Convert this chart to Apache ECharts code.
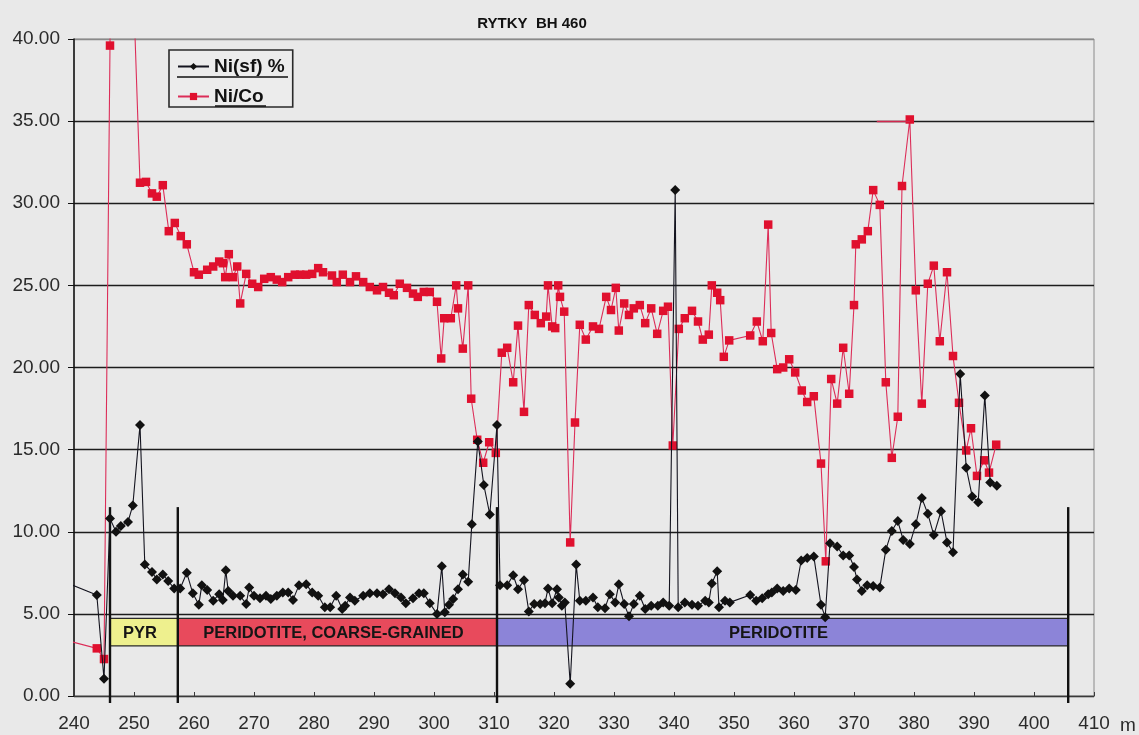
<!DOCTYPE html>
<html>
<head>
<meta charset="utf-8">
<script src="https://cdn.jsdelivr.net/npm/echarts@6/dist/echarts.min.js"></script>
<style>
  html, body { margin: 0; padding: 0; background: #e9e9e9; }
  #chart { width: 1139px; height: 735px; }
</style>
</head>
<body>
<div id="chart"></div>
<script>
// Borehole RYTKY BH 460: Ni(sf) % and Ni/Co ratio against depth (m)

// Ni(sf) % samples
const niDepth = [
  238.0, 243.8, 245.0, 246.0, 247.0, 247.8, 249.0, 249.8, 251.0, 251.8,
  253.0, 253.8, 254.8, 255.7, 256.7, 257.7, 258.8, 259.8, 260.8, 261.3,
  262.2, 263.2, 264.2, 264.8, 265.3, 265.7, 266.5, 267.7, 268.7, 269.2,
  270.0, 271.0, 272.0, 272.8, 273.8, 274.8, 275.7, 276.5, 277.5, 278.7,
  279.7, 280.7, 281.8, 282.7, 283.7, 284.7, 285.2, 286.0, 286.8, 288.2,
  289.3, 290.5, 291.5, 292.5, 293.5, 294.5, 295.3, 296.5, 297.5, 298.3,
  299.3, 300.5, 301.3, 301.8, 302.5, 303.2, 304.0, 304.8, 305.7, 306.3,
  307.3, 308.3, 309.3, 310.5, 311.0, 312.2, 313.2, 314.0, 315.0, 315.8,
  316.7, 317.7, 318.5, 319.0, 319.7, 320.5, 320.8, 321.3, 321.8, 322.7,
  323.7, 324.3, 325.3, 326.5, 327.3, 328.5, 329.3, 330.2, 330.8, 331.7,
  332.5, 333.3, 334.3, 335.2, 336.2, 337.3, 338.2, 339.2, 340.2, 340.7,
  341.8, 343.0, 344.0, 345.2, 345.8, 346.3, 347.2, 347.5, 348.5, 349.3,
  352.7, 353.7, 354.7, 355.7, 356.3, 357.2, 358.2, 359.2, 360.3, 361.2,
  362.2, 363.3, 364.5, 365.2, 366.0, 367.2, 368.2, 369.2, 370.0, 370.5,
  371.3, 372.2, 373.2, 374.3, 375.3, 376.3, 377.3, 378.2, 379.3, 380.3,
  381.3, 382.3, 383.3, 384.5, 385.5, 386.5, 387.7, 388.7, 389.7, 390.7,
  391.8, 392.7, 393.8
];
const niValue = [
  7.0, 6.15, 1.05, 10.8, 10.0, 10.35, 10.6, 11.6, 16.5, 8.0,
  7.55, 7.1, 7.4, 7.0, 6.55, 6.55, 7.5, 6.25, 5.55, 6.75,
  6.45, 5.8, 6.2, 5.85, 7.65, 6.4, 6.1, 6.1, 5.6, 6.6,
  6.1, 5.95, 6.1, 5.9, 6.1, 6.3, 6.3, 5.85, 6.75, 6.8,
  6.3, 6.1, 5.4, 5.4, 6.1, 5.3, 5.5, 6.0, 5.8, 6.1,
  6.25, 6.25, 6.2, 6.5, 6.25, 6.0, 5.65, 5.95, 6.25, 6.25,
  5.65, 5.0, 7.9, 5.1, 5.55, 5.9, 6.5, 7.4, 6.95, 10.45,
  15.5, 12.85, 11.05, 16.5, 6.75, 6.75, 7.35, 6.5, 7.05, 5.15,
  5.6, 5.6, 5.65, 6.55, 5.65, 6.5, 6.0, 5.5, 5.7, 0.75,
  8.0, 5.8, 5.8, 6.0, 5.4, 5.35, 6.2, 5.7, 6.8, 5.6,
  4.85, 5.6, 6.1, 5.3, 5.5, 5.5, 5.7, 5.5, 30.8, 5.4,
  5.7, 5.55, 5.5, 5.8, 5.7, 6.85, 7.6, 5.4, 5.8, 5.7,
  6.15, 5.8, 5.95, 6.2, 6.3, 6.55, 6.4, 6.55, 6.45, 8.25,
  8.4, 8.5, 5.55, 4.8, 9.3, 9.1, 8.55, 8.55, 7.85, 7.1,
  6.4, 6.75, 6.7, 6.6, 8.9, 10.05, 10.65, 9.5, 9.25, 10.45,
  12.05, 11.1, 9.8, 11.25, 9.35, 8.75, 19.6, 13.9, 12.15, 11.8,
  18.3, 13.0, 12.8
];

// Ni/Co ratio samples (values above 40 run off the top of the plot)
const ratioDepth = [
  238.0, 243.8, 245.0, 246.0, 247.0, 248.0, 249.0, 250.0, 251.0, 252.0,
  253.0, 253.8, 254.8, 255.8, 256.8, 257.8, 258.8, 260.0, 260.8, 262.2,
  263.2, 264.2, 264.8, 265.2, 265.8, 266.5, 267.2, 267.7, 268.7, 269.7,
  270.7, 271.7, 272.8, 273.8, 274.7, 275.7, 276.8, 277.7, 278.7, 279.7,
  280.7, 281.5, 283.0, 283.8, 284.8, 286.0, 287.0, 288.2, 289.3, 290.5,
  291.5, 292.5, 293.3, 294.3, 295.5, 296.5, 297.3, 298.3, 299.3, 300.5,
  301.2, 301.7, 302.8, 303.7, 304.0, 304.8, 305.7, 306.2, 307.2, 308.2,
  309.2, 310.3, 311.3, 312.2, 313.2, 314.0, 315.0, 315.8, 316.8, 317.8,
  318.7, 319.0, 319.7, 320.2, 320.7, 321.0, 321.7, 322.7, 323.5, 324.3,
  325.3, 326.5, 327.5, 328.7, 329.5, 330.3, 330.8, 331.7, 332.5, 333.3,
  334.3, 335.2, 336.2, 337.2, 338.2, 339.0, 339.8, 340.8, 341.8, 343.0,
  344.0, 344.8, 345.8, 346.3, 347.2, 347.7, 348.3, 349.2, 352.7, 353.8,
  354.8, 355.7, 356.2, 357.2, 358.2, 359.2, 360.2, 361.3, 362.2, 363.3,
  364.5, 365.3, 366.2, 367.2, 368.2, 369.2, 370.0, 370.3, 371.3, 372.3,
  373.2, 374.3, 375.3, 376.3, 377.3, 378.0, 379.3, 380.3, 381.3, 382.3,
  383.3, 384.3, 385.5, 386.5, 387.5, 388.7, 389.5, 390.5, 391.7, 392.5,
  393.7
];
const ratioValue = [
  3.45, 2.9, 2.25, 39.6, 95, 80, 60, 42, 31.25, 31.3,
  30.6, 30.4, 31.1, 28.3, 28.8, 28.0, 27.5, 25.8, 25.65, 25.95,
  26.15, 26.45, 26.35, 25.5, 26.9, 25.5, 26.15, 23.9, 25.7, 25.1,
  24.9, 25.4, 25.5, 25.35, 25.2, 25.5, 25.65, 25.65, 25.65, 25.7,
  26.05, 25.8, 25.6, 25.2, 25.65, 25.2, 25.55, 25.2, 24.9, 24.7,
  24.9, 24.55, 24.4, 25.1, 24.85, 24.5, 24.3, 24.6, 24.6, 24.0,
  20.55, 23.0, 23.0, 25.0, 23.6, 21.15, 25.0, 18.1, 15.6, 14.2,
  15.45, 14.8, 20.9, 21.2, 19.1, 22.55, 17.3, 23.8, 23.2, 22.7,
  23.1, 25.0, 22.5, 22.4, 25.0, 24.3, 23.4, 9.35, 16.65, 22.6,
  21.7, 22.5, 22.35, 24.3, 23.5, 24.85, 22.25, 23.9, 23.2, 23.6,
  23.8, 22.7, 23.6, 22.05, 23.45, 23.7, 15.25, 22.35, 23.0, 23.45,
  22.8, 21.7, 22.0, 25.0, 24.55, 24.1, 20.65, 21.65, 21.95, 22.8,
  21.6, 28.7, 22.1, 19.9, 20.0, 20.5, 19.7, 18.6, 17.9, 18.25,
  14.15, 8.2, 19.3, 17.8, 21.2, 18.4, 23.8, 27.5, 27.8, 28.3,
  30.8, 29.9, 19.1, 14.5, 17.0, 31.05, 35.1, 24.7, 17.8, 25.1,
  26.2, 21.6, 25.8, 20.7, 17.85, 14.95, 16.3, 13.4, 14.35, 13.6,
  15.3
];

// Lithology column
const unitNames = ['PYR', 'PERIDOTITE, COARSE-GRAINED', 'PERIDOTITE'];
const unitFrom = [246.0, 257.3, 310.5];
const unitTo = [257.3, 310.5, 405.7];

// Contact markers between units
const contactDepths = [246.0, 257.3, 310.5, 405.7];

// Axis ticks
const xTicks = { min: 240, max: 410, step: 10 };
const yTicks = { min: 0, max: 40, step: 5 };

const UNIT_COLORS = ['#eef08e', '#e84a5c', '#8c84d8'];
const BAND_TOP = 4.72, BAND_BOTTOM = 3.05, CONTACT_TOP = 11.5;
const FONT = 'Arial, "Liberation Sans", sans-serif';

const zip = (a, b) => a.map((v, i) => [v, b[i]]);

const chart = echarts.init(document.getElementById('chart'), null, { renderer: 'canvas' });

const axisFont = { fontFamily: FONT, fontSize: 19, color: '#2b2b2b' };

const splitColors = [];
for (let v = yTicks.min; v <= yTicks.max; v += yTicks.step) splitColors.push(v === yTicks.max ? '#8a8a8a' : '#1c1c1c');

chart.setOption({
  backgroundColor: '#e9e9e9',
  animation: false,
  title: {
    text: 'RYTKY  BH 460',
    left: 527, top: 11, textAlign: 'center',
    textStyle: { fontFamily: FONT, fontSize: 15, fontWeight: 'bold', color: '#111' }
  },
  grid: {
    left: 74, right: 45, top: 39, bottom: 38,
    show: true, borderColor: '#8a8a8a', borderWidth: 1, backgroundColor: 'transparent'
  },
  legend: {
    data: ['Ni(sf) %', 'Ni/Co'],
    orient: 'vertical',
    left: 169, top: 50,
    padding: [7, 8, 1, 8],
    itemGap: 11,
    itemWidth: 31, itemHeight: 9,
    borderColor: '#2a2a2a', borderWidth: 1.6,
    backgroundColor: '#ececec',
    textStyle: { fontFamily: FONT, fontSize: 19, fontWeight: 'bold', color: '#111' }
  },
  xAxis: {
    type: 'value',
    min: xTicks.min, max: xTicks.max, interval: xTicks.step,
    name: 'm', nameLocation: 'end', nameGap: 26,
    nameTextStyle: Object.assign({}, axisFont, { verticalAlign: 'top', padding: [20, 0, 0, 0] }),
    axisLine: { onZero: false, lineStyle: { color: '#3a3a3a', width: 1.2 } },
    axisTick: { inside: true, length: 4, lineStyle: { color: '#3a3a3a' } },
    axisLabel: Object.assign({}, axisFont, { margin: 18 }),
    splitLine: { show: false }
  },
  yAxis: {
    type: 'value',
    min: yTicks.min, max: yTicks.max, interval: yTicks.step,
    axisLine: { show: true, lineStyle: { color: '#111', width: 1.5 } },
    axisTick: { show: true, length: 6, lineStyle: { color: '#111' } },
    axisLabel: Object.assign({}, axisFont, { margin: 14, formatter: v => v.toFixed(2) }),
    splitLine: { show: true, lineStyle: { color: splitColors, width: 1.3 } }
  },
  series: [
    {
      // lithology band with unit names
      type: 'custom',
      name: 'lithology',
      silent: true,
      z: 1,
      data: unitNames.map((n, i) => [unitFrom[i], unitTo[i]]),
      encode: { x: [0, 1] },
      renderItem: (params, api) => {
        const i = params.dataIndex;
        const a = api.coord([api.value(0), BAND_TOP]);
        const b = api.coord([api.value(1), BAND_BOTTOM]);
        return {
          type: 'group',
          children: [
            { type: 'rect', shape: { x: a[0], y: a[1], width: b[0] - a[0], height: b[1] - a[1] },
              style: { fill: UNIT_COLORS[i], stroke: '#2a2a2a', lineWidth: 1.3 } },
            { type: 'text', style: { text: unitNames[i], x: (a[0] + b[0]) / 2 - 4, y: (a[1] + b[1]) / 2 + 1,
              align: 'center', verticalAlign: 'middle',
              font: 'bold 16.5px ' + FONT, fill: '#151515' } }
          ]
        };
      }
    },
    {
      // vertical contact markers
      type: 'custom',
      name: 'contacts',
      silent: true,
      z: 2,
      data: contactDepths.map(d => [d]),
      encode: { x: 0 },
      renderItem: (params, api) => {
        const t = api.coord([api.value(0), CONTACT_TOP]);
        const b = api.coord([api.value(0), 0]);
        return { type: 'line', shape: { x1: t[0], y1: t[1], x2: b[0], y2: b[1] + 7 },
          style: { stroke: '#111', lineWidth: 2.4 } };
      }
    },
    {
      name: 'Ni(sf) %',
      type: 'line',
      z: 4,
      data: zip(niDepth, niValue),
      symbol: 'diamond', symbolSize: 10,
      lineStyle: { color: '#14141f', width: 1.1 },
      itemStyle: { color: '#111' }
    },
    {
      name: 'Ni/Co',
      type: 'line',
      z: 3,
      data: zip(ratioDepth, ratioValue),
      symbol: 'rect', symbolSize: 8.5,
      lineStyle: { color: '#dc2d58', width: 1.1 },
      itemStyle: { color: '#e0102e' },
      markLine: {
        silent: true, symbol: 'none', label: { show: false },
        lineStyle: { color: '#d0284e', width: 1.3, type: 'solid' },
        data: [[{ coord: [373.8, 35] }, { coord: [379.3, 35] }]]
      }
    }
  ],
  graphic: [
    { type: 'line', shape: { x1: 177, y1: 77, x2: 288, y2: 77 }, style: { stroke: '#111', lineWidth: 1.6 }, z: 100 },
    { type: 'line', shape: { x1: 215, y1: 106, x2: 266, y2: 106 }, style: { stroke: '#111', lineWidth: 1.6 }, z: 100 }
  ]
});
</script>
</body>
</html>
